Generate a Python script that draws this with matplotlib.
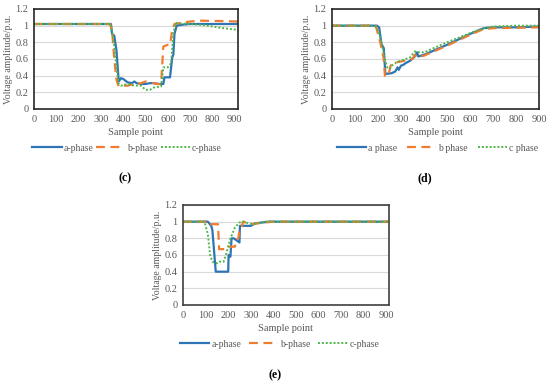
import matplotlib.pyplot as plt
import numpy as np

plt.rcParams['font.family'] = ['Liberation Serif', 'DejaVu Serif']

# panel (c)
c_ax = [0, 345, 350, 360, 370, 380, 390, 400, 420, 440, 450, 460, 480, 500, 520, 540, 560, 580, 585, 610, 615, 620, 625, 630, 640, 660, 700, 915]
c_ay = [1.02, 1.02, 0.9, 0.88, 0.7, 0.33, 0.37, 0.36, 0.32, 0.31, 0.33, 0.31, 0.30, 0.30, 0.31, 0.31, 0.30, 0.30, 0.38, 0.38, 0.50, 0.62, 0.65, 0.90, 1.00, 1.01, 1.02, 1.02]
c_bx = [0, 340, 350, 360, 370, 380, 400, 420, 450, 480, 500, 520, 550, 570, 580, 600, 610, 620, 630, 650, 700, 750, 915]
c_by = [1.02, 1.02, 0.95, 0.6, 0.35, 0.27, 0.28, 0.28, 0.30, 0.31, 0.33, 0.32, 0.30, 0.30, 0.75, 0.77, 0.77, 0.95, 1.02, 1.03, 1.05, 1.06, 1.05]
c_cx = [0, 345, 360, 370, 380, 390, 420, 450, 480, 500, 520, 540, 570, 580, 600, 615, 625, 635, 700, 750, 800, 850, 915]
c_cy = [1.02, 1.02, 0.75, 0.5, 0.3, 0.28, 0.30, 0.28, 0.28, 0.23, 0.23, 0.26, 0.27, 0.50, 0.50, 0.55, 0.90, 1.03, 1.02, 1.01, 0.99, 0.97, 0.95]

# panel (d)
d_ax = [0, 195, 205, 215, 225, 232, 260, 275, 285, 290, 300, 310, 320, 340, 360, 370, 375, 400, 500, 600, 660, 700, 800, 900]
d_ay = [1.0, 1.0, 0.98, 0.78, 0.73, 0.42, 0.43, 0.45, 0.50, 0.47, 0.52, 0.53, 0.55, 0.58, 0.63, 0.68, 0.63, 0.65, 0.77, 0.90, 0.97, 0.98, 0.98, 0.99]
d_bx = [0, 190, 210, 225, 230, 245, 255, 265, 280, 300, 350, 360, 370, 400, 500, 600, 660, 700, 900]
d_by = [1.0, 1.0, 0.8, 0.6, 0.4, 0.4, 0.52, 0.55, 0.56, 0.57, 0.60, 0.65, 0.62, 0.64, 0.76, 0.89, 0.96, 0.97, 0.98]
d_cx = [0, 185, 200, 215, 230, 240, 250, 260, 280, 300, 340, 360, 380, 400, 500, 600, 660, 700, 800, 900]
d_cy = [1.0, 1.0, 0.95, 0.8, 0.6, 0.5, 0.48, 0.52, 0.56, 0.58, 0.62, 0.69, 0.68, 0.68, 0.80, 0.91, 0.97, 0.99, 1.0, 1.0]

# panel (e)
e_ax = [0, 110, 125, 130, 145, 200, 202, 210, 215, 225, 240, 250, 252, 300, 320, 350, 380, 912]
e_ay = [1.0, 1.0, 0.95, 0.9, 0.4, 0.4, 0.6, 0.58, 0.8, 0.8, 0.77, 0.75, 0.95, 0.95, 0.98, 0.99, 1.0, 1.0]
e_bx = [0, 115, 120, 155, 160, 195, 200, 230, 235, 245, 250, 260, 265, 300, 330, 360, 400, 912]
e_by = [1.0, 1.0, 0.97, 0.97, 0.67, 0.67, 0.7, 0.7, 0.78, 0.8, 0.9, 0.92, 1.0, 0.97, 0.98, 0.99, 1.0, 1.0]
e_cx = [0, 95, 110, 120, 130, 150, 160, 180, 190, 210, 230, 250, 270, 290, 310, 330, 360, 912]
e_cy = [1.0, 1.0, 0.85, 0.6, 0.52, 0.5, 0.52, 0.52, 0.6, 0.8, 0.93, 0.99, 1.0, 0.98, 0.97, 0.98, 1.0, 1.0]

xticks = [0, 100, 200, 300, 400, 500, 600, 700, 800, 900]
yticks = [0, 0.2, 0.4, 0.6, 0.8, 1, 1.2]
ytick_labels = ['0', '0.2', '0.4', '0.6', '0.8', '1', '1.2']

blue = '#2E75B6'
orange = '#ED7D31'
green = '#4DB848'
gray = '#595959'

W, H = 550, 383
fig = plt.figure(figsize=(5.5, 3.83), dpi=100)


def panel(l, r, t, b, series, names, xmax, tag, tagpos, edge, legx, colsp):
    ax = fig.add_axes([l / W, 1 - b / H, (r - l) / W, (b - t) / H])
    (ax_, ay), (bx, by), (cx, cy) = series
    ax.plot(ax_, ay, color=blue, lw=1.6, label=names[0])
    ax.plot(bx, by, color=orange, lw=1.6, ls=(0, (4, 2.5)), label=names[1])
    ax.plot(cx, cy, color=green, lw=1.4, ls=(0, (1, 1)), label=names[2])
    ax.set_xlim(0, xmax)
    ax.set_ylim(0, 1.2)
    ax.set_xticks(xticks)
    ax.set_yticks(yticks)
    ax.set_yticklabels(ytick_labels)
    ax.yaxis.grid(True, color='#d9d9d9', lw=0.8)
    ax.set_axisbelow(True)
    ax.tick_params(length=0, labelsize=7.5, labelcolor=gray, pad=4)
    for s in ax.spines.values():
        s.set_color(edge)
        s.set_linewidth(1.2)
    ax.set_xlabel('Sample point', fontsize=7.5, color=gray, labelpad=3)
    ax.set_ylabel('Voltage amplitude/p.u.', fontsize=7, color=gray, labelpad=2)
    leg = ax.legend(loc='upper center', bbox_to_anchor=(legx, -0.26), ncol=3,
                    frameon=False, fontsize=7, handlelength=3.0,
                    columnspacing=colsp, handletextpad=0.2)
    for txt in leg.get_texts():
        txt.set_color(gray)
    fig.text(tagpos[0] / W, 1 - tagpos[1] / H, tag, fontsize=8.5, fontweight='bold',
             ha='center', va='center')
    return ax


panel(34, 238, 9, 109, [(c_ax, c_ay), (c_bx, c_by), (c_cx, c_cy)],
      ['a-phase', 'b-phase', 'c-phase'], 915, '(c)', (125, 178), '#262626', 0.456, 0.3)
panel(332, 539, 9, 109, [(d_ax, d_ay), (d_bx, d_by), (d_cx, d_cy)],
      ['a phase', 'b phase', 'c phase'], 900, '(d)', (425, 178), '#262626', 0.51, 1.0)
panel(183, 389, 205, 305, [(e_ax, e_ay), (e_bx, e_by), (e_cx, e_cy)],
      ['a-phase', 'b-phase', 'c-phase'], 912, '(e)', (275, 375), '#404040', 0.47, 0.8)

fig.savefig('out.png', dpi=100)
